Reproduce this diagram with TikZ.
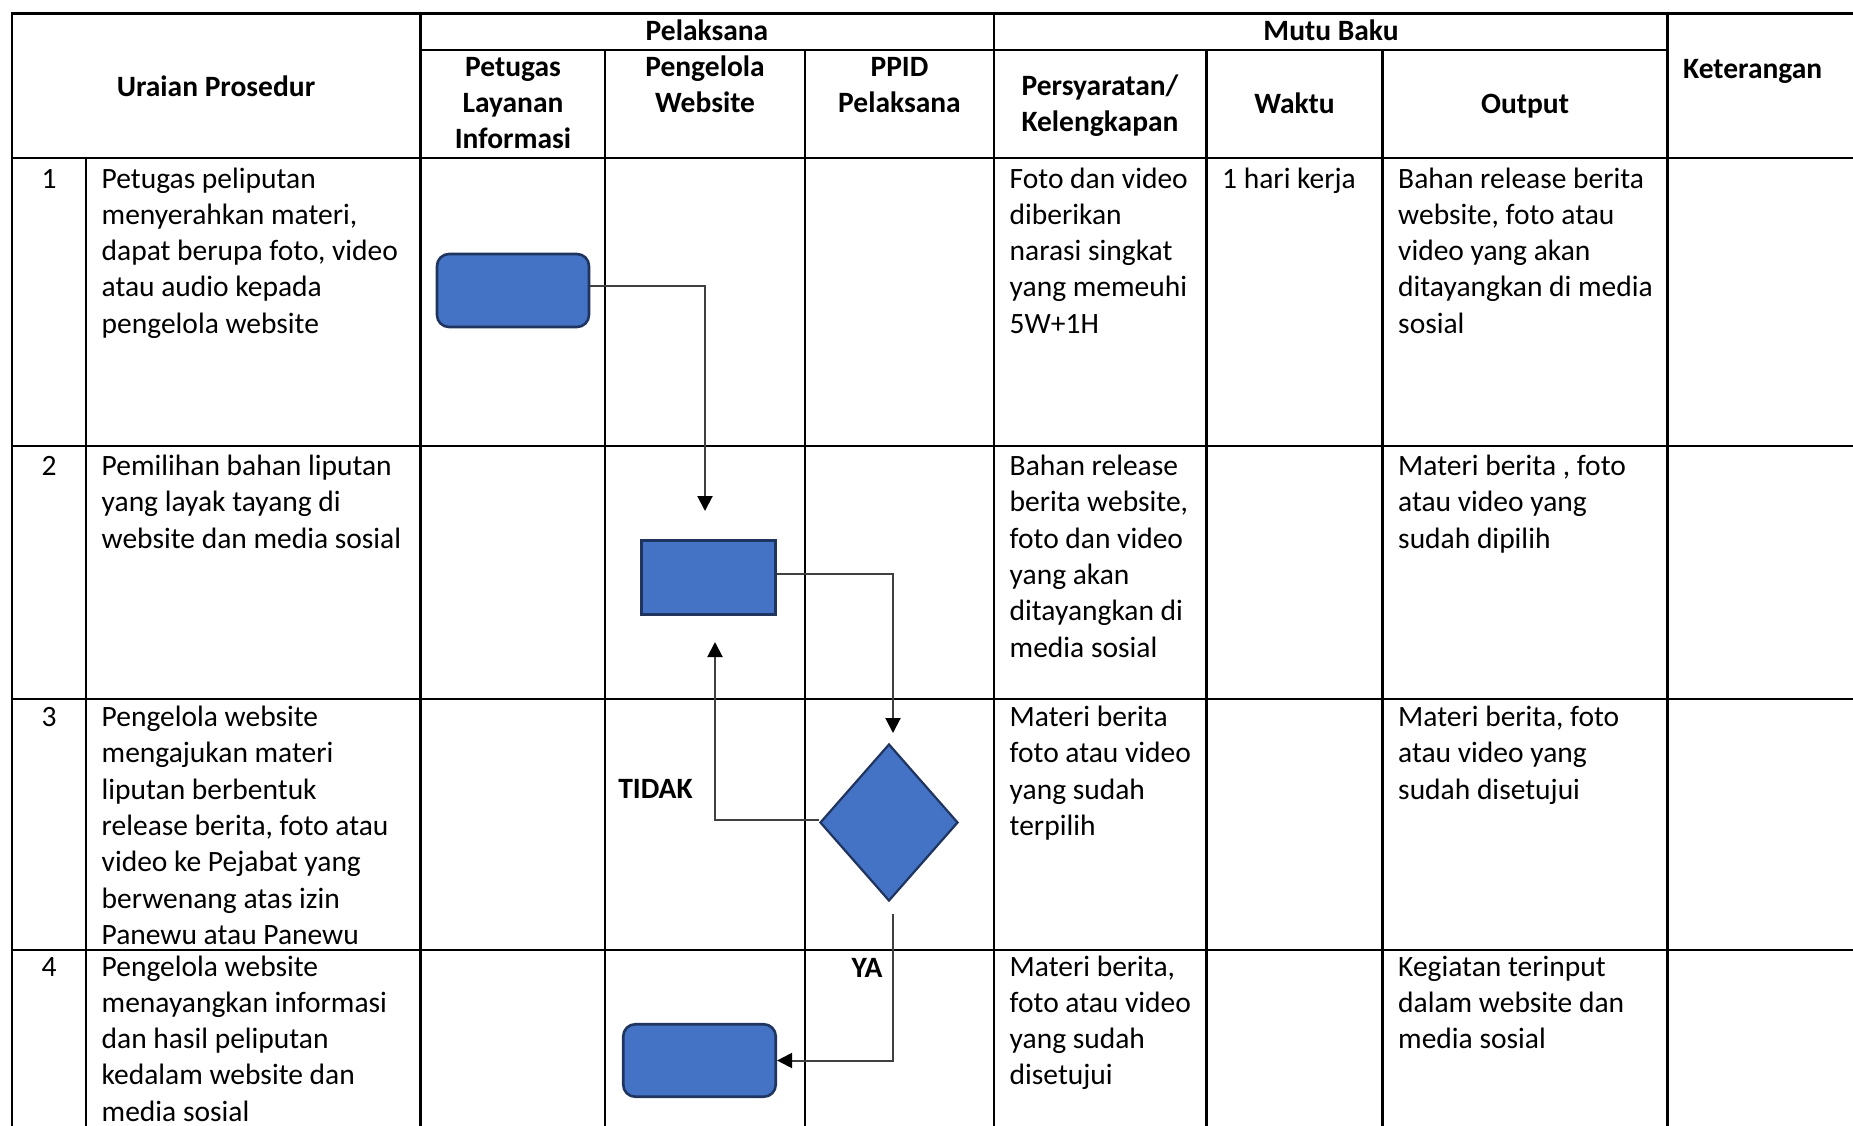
\documentclass[tikz,border=0pt]{standalone}
\usepackage{fontspec}
\setmainfont{Carlito}
\usetikzlibrary{arrows.meta,shapes.geometric}
\definecolor{boxblue}{HTML}{4472C4}
\definecolor{boxedge}{HTML}{1F3560}
\definecolor{conncol}{HTML}{404040}
\newcommand\celll[1]{\vtop{\baselineskip=36.3pt\lineskiplimit=-100pt\lineskip=0pt\halign{##\hfil\cr#1\crcr}}}
\newcommand\cellc[1]{\vtop{\baselineskip=36.3pt\lineskiplimit=-100pt\lineskip=0pt\halign{\hfil##\hfil\cr#1\crcr}}}
\tikzset{
  tline/.style={line width=2.6pt, black, line cap=rect},
  txt/.style={inner sep=0pt, anchor=base west, font=\fontsize{29.5}{36.3}\selectfont},
  ctxt/.style={inner sep=0pt, anchor=base, font=\fontsize{29.5}{36.3}\selectfont},
  hdr/.style={inner sep=0pt, anchor=base, font=\fontsize{29.5}{36.3}\selectfont\bfseries},
  rbox/.style={draw=boxedge, fill=boxblue, line width=2.6pt, rounded corners=12pt, inner sep=0pt},
  sbox/.style={draw=boxedge, fill=boxblue, line width=2.6pt, inner sep=0pt},
  dia/.style={diamond, draw=boxedge, fill=boxblue, line width=2.2pt, inner sep=0pt, minimum width=138pt, minimum height=157pt},
  flow/.style={draw=conncol, line width=2pt, -{Triangle[width=15pt,length=15pt,color=black]}}
}
\begin{document}
\begin{tikzpicture}[x=1pt,y=-1pt]
\useasboundingbox (0,0) rectangle (1853,1125);
\fill[white] (0,0) rectangle (1853,1125);
\clip (0,0) rectangle (1853,1125);
% table grid
\draw[tline] (12,13.5) -- (1853,13.5);
\draw[tline] (420.7,50) -- (1667.5,50);
\draw[tline] (12,158) -- (1853,158);
\draw[tline] (12,446) -- (1853,446);
\draw[tline] (12,699) -- (1853,699);
\draw[tline] (12,950) -- (1853,950);
\draw[tline] (12,13.5) -- (12,1130);
\draw[tline] (86,158) -- (86,1130);
\draw[tline] (420.7,13.5) -- (420.7,1130);
\draw[tline] (605,50) -- (605,1130);
\draw[tline] (805,50) -- (805,1130);
\draw[tline] (994,13.5) -- (994,1130);
\draw[tline] (1206.6,50) -- (1206.6,1130);
\draw[tline] (1382.7,50) -- (1382.7,1130);
\draw[tline] (1667.5,13.5) -- (1667.5,1130);
% headers
\node[hdr] (hpel) at (707,40) {Pelaksana};
\node[hdr] (hmutu) at (1331,40) {Mutu Baku};
\node[hdr] (hura) at (216,96) {Uraian Prosedur};
\node[hdr] (hpet) at (513,76) {\cellc{Petugas\cr Layanan\cr Informasi}};
\node[hdr] (hpng) at (705,76) {\cellc{Pengelola\cr Website}};
\node[hdr] (hppid) at (899.5,76) {\cellc{PPID\cr Pelaksana}};
\node[hdr] (hsyar) at (1100,95.5) {\cellc{Persyaratan/\cr Kelengkapan}};
\node[hdr] (hwak) at (1294.6,113.5) {Waktu};
\node[hdr] (hout) at (1525,113.5) {Output};
\node[hdr, anchor=base west] (hket) at (1683,78) {Keterangan};
% row 1
\node[ctxt] (n1) at (49,188) {1};
\node[txt] (u1) at (101.5,188) {\celll{Petugas peliputan\cr menyerahkan materi,\cr dapat berupa foto, video\cr atau audio kepada\cr pengelola website}};
\node[txt] (p1) at (1009.5,188) {\celll{Foto dan video\cr diberikan\cr narasi singkat\cr yang memeuhi\cr 5W+1H}};
\node[txt] (w1) at (1222,188) {1 hari kerja};
\node[txt] (o1) at (1398,188) {\celll{Bahan release berita\cr website, foto atau\cr video yang akan\cr ditayangkan di media\cr sosial}};
% row 2
\node[ctxt] (n2) at (49,475.5) {2};
\node[txt] (u2) at (101.5,475.5) {\celll{Pemilihan bahan liputan\cr yang layak tayang di\cr website dan media sosial}};
\node[txt] (p2) at (1009.5,475.5) {\celll{Bahan release\cr berita website,\cr foto dan video\cr yang akan\cr ditayangkan di\cr media sosial}};
\node[txt] (o2) at (1398,475.5) {\celll{Materi berita , foto\cr atau video yang\cr sudah dipilih}};
% row 3
\node[ctxt] (n3) at (49,726.5) {3};
\node[txt] (u3) at (101.5,726.5) {\celll{Pengelola website\cr mengajukan materi\cr liputan berbentuk\cr release berita, foto atau\cr video ke Pejabat yang\cr berwenang atas izin\cr Panewu atau Panewu}};
\node[txt] (p3) at (1009.5,726.5) {\celll{Materi berita\cr foto atau video\cr yang sudah\cr terpilih}};
\node[txt] (o3) at (1398,726.5) {\celll{Materi berita, foto\cr atau video yang\cr sudah disetujui}};
% row 4
\node[ctxt] (n4) at (49,976) {4};
\node[txt] (u4) at (101.5,976) {\celll{Pengelola website\cr menayangkan informasi\cr dan hasil peliputan\cr kedalam website dan\cr media sosial}};
\node[txt] (p4) at (1009.5,976) {\celll{Materi berita,\cr foto atau video\cr yang sudah\cr disetujui}};
\node[txt] (o4) at (1398,976) {\celll{Kegiatan terinput\cr dalam website dan\cr media sosial}};
% flow shapes
\node[rbox, minimum width=152pt, minimum height=73pt] (s1) at (513,290.5) {};
\node[sbox, minimum width=134.5pt, minimum height=74.5pt] (s2) at (708.5,577.5) {};
\node[dia] (d) at (889,822.5) {};
\node[rbox, minimum width=152.5pt, minimum height=72.5pt] (s3) at (699.5,1060.5) {};
% connectors
\coordinate (c1) at (705,511);
\coordinate (c2) at (893,733);
\coordinate (c3) at (715,642);
\coordinate (c4) at (893,914);
\draw[flow] ([yshift=4.5pt]s1.east) -| (c1);
\draw[flow] ([yshift=3.5pt]s2.east) -| (c2);
\draw[flow] ([yshift=2.5pt]d.west) -| (c3);
\draw[flow] (c4) |- (s3.east);
\node[hdr] (tidak) at (655.5,798) {TIDAK};
\node[hdr] (ya) at (867,977) {YA};
\end{tikzpicture}
\end{document}
